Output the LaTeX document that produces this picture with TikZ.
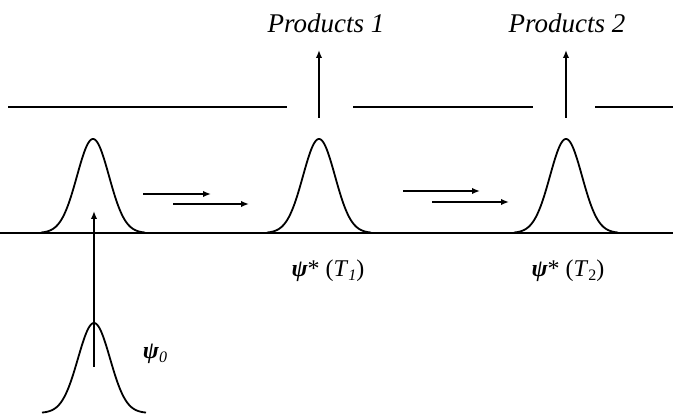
\documentclass[tikz,border=0pt]{standalone}
\usepackage{fontspec}
\setmainfont{Liberation Serif}
\usetikzlibrary{arrows.meta}
\newcommand\mylowsub[1]{\raisebox{-0.35ex}{\fontsize{16}{16}\selectfont #1}}
\begin{document}
\begin{tikzpicture}[x=1pt,y=-1pt,
  gauss/.style={line width=1.8pt},
  axisline/.style={line width=2.5pt},
  wall/.style={line width=2.2pt},
  arr/.style={line width=1.7pt,-{Latex[length=8pt,width=6.5pt]}},
  prodlabel/.style={font=\fontsize{27}{27}\selectfont\itshape, anchor=base, inner sep=0pt},
  psilabel/.style={font=\fontsize{24}{24}\selectfont, anchor=base, inner sep=0pt}]
\useasboundingbox (0,0) rectangle (673,414);
% baseline
\coordinate (bl) at (0,233);
\coordinate (br) at (673,233);
\draw[axisline] (bl) -- (br);
% top wall segments
\coordinate (w1a) at (8,107);  \coordinate (w1b) at (287,107);
\coordinate (w2a) at (353,107); \coordinate (w2b) at (533,107);
\coordinate (w3a) at (595,107); \coordinate (w3b) at (673,107);
\draw[wall] (w1a) -- (w1b);
\draw[wall] (w2a) -- (w2b);
\draw[wall] (w3a) -- (w3b);
% gaussians on baseline
\foreach \c in {93,319,566}{
  \draw[gauss] plot[domain=-52:52, samples=121, smooth] ({\c+\x},{233-94*exp(-(\x*\x)/(2*16*16))});
}
% bottom gaussian
\draw[gauss] plot[domain=-52:52, samples=121, smooth] ({94+\x},{413-90*exp(-(\x*\x)/(2*16*16))});
% horizontal arrows
\coordinate (h1a) at (143,194); \coordinate (h1b) at (211,194);
\coordinate (h2a) at (173,204); \coordinate (h2b) at (249,204);
\coordinate (h3a) at (403,191); \coordinate (h3b) at (480,191);
\coordinate (h4a) at (432,202); \coordinate (h4b) at (509,202);
\draw[arr] (h1a) -- (h1b);
\draw[arr] (h2a) -- (h2b);
\draw[arr] (h3a) -- (h3b);
\draw[arr] (h4a) -- (h4b);
% vertical arrows
\coordinate (v0a) at (94,367); \coordinate (v0b) at (94,211);
\draw[arr] (v0a) -- (v0b);
\coordinate (v1a) at (319,118); \coordinate (v1b) at (319,50);
\coordinate (v2a) at (566,118); \coordinate (v2b) at (566,50);
\draw[arr] (v1a) -- (v1b);
\draw[arr] (v2a) -- (v2b);
% labels
\node[prodlabel] (p1) at (326,33) {Products 1};
\node[prodlabel] (p2) at (567,33) {Products 2};
\node[psilabel] (t1) at (328,277) {{\bfseries\itshape ψ}* (\textit{T}\mylowsub{\textit{1}})};
\node[psilabel] (t2) at (568,277) {{\bfseries\itshape ψ}* (\textit{T}\mylowsub{2})};
\node[psilabel] (s0) at (155,359) {{\bfseries\itshape ψ}\mylowsub{\textit{0}}};
\end{tikzpicture}
\end{document}
